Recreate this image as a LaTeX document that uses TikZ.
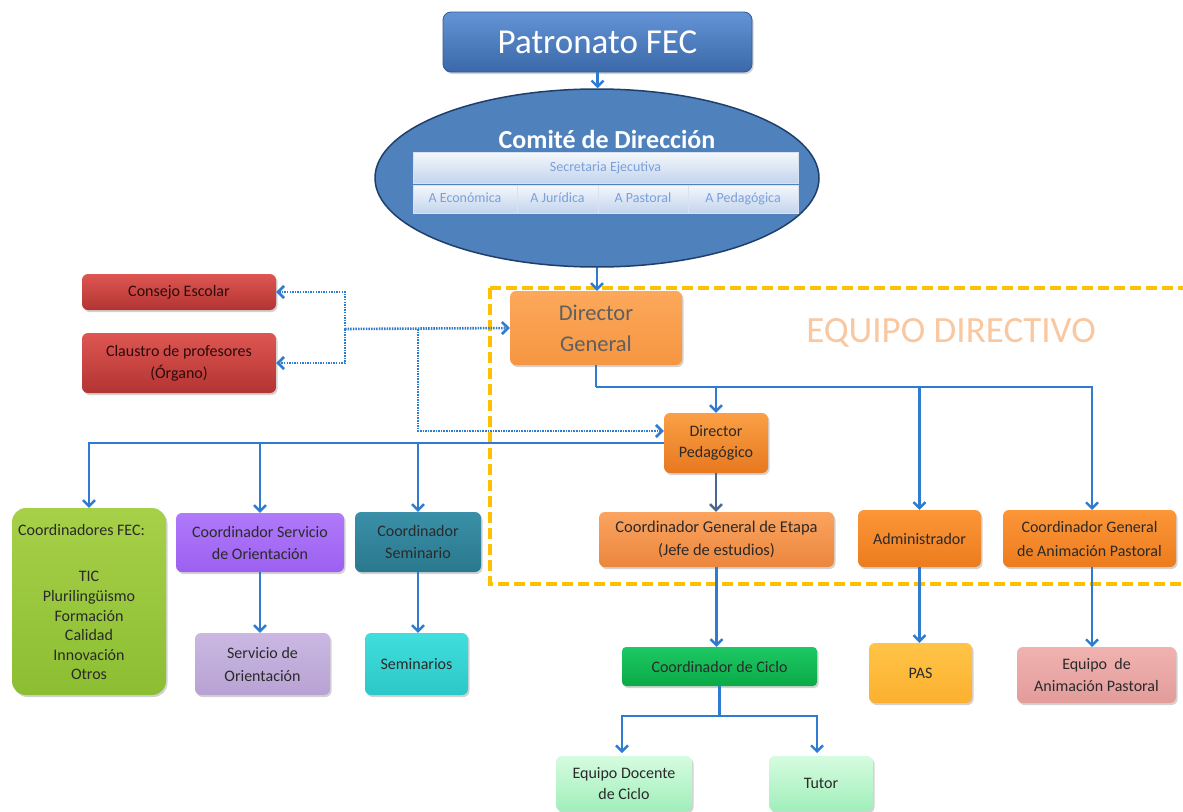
\documentclass[tikz,border=0pt]{standalone}
\usepackage{fontspec}
\setmainfont{Carlito}
\usetikzlibrary{arrows.meta,shadows,calc,shapes.geometric}
\definecolor{connblue}{HTML}{2E7BCF}
\definecolor{slate}{HTML}{4A6691}
\definecolor{txt}{HTML}{2A2A2A}
\definecolor{gold}{HTML}{FFC000}
\definecolor{equipo}{HTML}{F9C7A0}
\definecolor{secblue}{HTML}{7AA0D8}
\begin{document}
\begin{tikzpicture}[x=1pt,y=-1pt,>={Straight Barb[length=6pt,width=12pt]},
  box/.style={rounded corners=6pt, draw=none, align=center, inner sep=2pt,
    drop shadow={shadow xshift=1.5pt,shadow yshift=-2pt,opacity=0.35},
    font=\fontsize{16}{22}\selectfont, text=txt},
  cell/.style={draw=white!70!secblue, line width=0.6pt, top color=white!92!secblue, bottom color=white!55!secblue,
    align=center, inner sep=0pt, text height=10pt, text depth=3pt, font=\fontsize{14}{16}\selectfont, text=secblue},
  conn/.style={draw=connblue, line width=2.4pt},
  arr/.style={conn,->},
  dotc/.style={draw=connblue, line width=2.6pt, dash pattern=on 1.5pt off 1.1pt},
  darr/.style={dotc,->},
  bw/.style n args={2}{minimum width=#1pt, minimum height=#2pt}
]
\useasboundingbox (0,0) rectangle (1183,811);
\fill[white] (0,0) rectangle (1183,811);

% Equipo directivo frame
\draw[gold, line width=3.8pt, dash pattern=on 11pt off 5pt] (490,288) -- (1190,288);
\draw[gold, line width=3.8pt, dash pattern=on 11pt off 5pt] (490,288) -- (490,584) -- (1190,584);
\node[text=equipo, font=\fontsize{37}{42}\selectfont] (eqd) at (951,333) {EQUIPO DIRECTIVO};

% Top
\node[box, bw={309}{60}, rounded corners=8pt, top color={rgb,255:red,100;green,148;blue,214}, bottom color={rgb,255:red,58;green,104;blue,168},
  draw={rgb,255:red,50;green,90;blue,150}, line width=0.8pt, text=white, font=\fontsize{35}{40}\selectfont] (pat) at (597.5,42) {Patronato FEC};
\node[ellipse, draw={rgb,255:red,31;green,63;blue,107}, line width=1.5pt, fill={rgb,255:red,79;green,129;blue,189},
  minimum width=444pt, minimum height=178pt, inner sep=0pt] (com) at (597,178) {};
\node[text=white, font=\bfseries\fontsize{26}{30}\selectfont] (comt) at (607,139) {Comité de Dirección};
\node[cell, bw={385}{31}] (sec) at (605.5,167.5) {Secretaria Ejecutiva};
\node[cell, bw={104}{28}] (ae) at (465,199) {A Económica};
\node[cell, bw={81}{28}] (aj) at (557.5,199) {A Jurídica};
\node[cell, bw={90}{28}] (ap) at (643,199) {A Pastoral};
\node[cell, bw={110}{28}] (aped) at (743,199) {A Pedagógica};

% Red boxes
\node[box, bw={194}{36}, top color={rgb,255:red,222;green,86;blue,82}, bottom color={rgb,255:red,178;green,52;blue,50}, text={rgb,255:red,45;green,10;blue,10}] (consejo) at (179,292) {Consejo Escolar};
\node[box, bw={194}{60}, top color={rgb,255:red,222;green,86;blue,82}, bottom color={rgb,255:red,178;green,52;blue,50}, text={rgb,255:red,45;green,10;blue,10}] (claustro) at (179,363) {Claustro de profesores\\(Órgano)};

% Directors
\node[box, bw={172}{74}, top color={rgb,255:red,252;green,168;blue,90}, bottom color={rgb,255:red,246;green,150;blue,66}, text={rgb,255:red,95;green,95;blue,95}, font=\fontsize{22.5}{31}\selectfont] (dg) at (596,328) {Director\\General};
\node[box, bw={104}{60}, top color={rgb,255:red,250;green,160;blue,70}, bottom color={rgb,255:red,232;green,120;blue,30}, font=\fontsize{16}{21}\selectfont] (dp) at (716,443) {Director\\Pedagógico};

% Left branch
\node[box, bw={154}{187}, rounded corners=14pt, top color={rgb,255:red,166;green,208;blue,72}, bottom color={rgb,255:red,140;green,190;blue,50}] (fec) at (89,601.5) {};
\node[anchor=west, text=txt, inner sep=0pt, font=\fontsize{16}{19}\selectfont] (fect) at (18,530) {Coordinadores FEC:};
\node[align=center, text=txt, font=\fontsize{16}{19.6}\selectfont, anchor=north] (fecl) at (89,568) {TIC\\Plurilingüismo\\Formación\\Calidad\\Innovación\\Otros};
\node[box, bw={168}{59}, top color={rgb,255:red,176;green,122;blue,250}, bottom color={rgb,255:red,156;green,96;blue,240}] (cso) at (260,542.5) {Coordinador Servicio\\de Orientación};
\node[box, bw={126}{60}, top color={rgb,255:red,58;green,144;blue,168}, bottom color={rgb,255:red,42;green,120;blue,142}] (cs) at (418,542) {Coordinador\\Seminario};
\node[box, bw={135}{62}, top color={rgb,255:red,202;green,184;blue,226}, bottom color={rgb,255:red,184;green,162;blue,212}, font=\fontsize{16}{23}\selectfont] (so) at (262.5,664) {Servicio de\\Orientación};
\node[box, bw={103}{62}, top color={rgb,255:red,64;green,222;blue,220}, bottom color={rgb,255:red,44;green,200;blue,200}] (sem) at (416.5,664) {Seminarios};

% Right branch
\node[box, bw={235}{55}, top color={rgb,255:red,250;green,164;blue,96}, bottom color={rgb,255:red,236;green,134;blue,60}, font=\fontsize{16.5}{23}\selectfont] (cge) at (716.5,539.5) {Coordinador General de Etapa\\(Jefe de estudios)};
\node[box, bw={123}{57}, top color={rgb,255:red,252;green,150;blue,56}, bottom color={rgb,255:red,236;green,124;blue,30}] (adm) at (919.5,538.5) {Administrador};
\node[box, bw={173}{57}, top color={rgb,255:red,252;green,150;blue,56}, bottom color={rgb,255:red,236;green,124;blue,30}, font=\fontsize{16}{24}\selectfont] (cgap) at (1089.5,538.5) {Coordinador General\\de Animación Pastoral};
\node[box, bw={195}{39}, rounded corners=4pt, top color={rgb,255:red,30;green,200;blue,100}, bottom color={rgb,255:red,10;green,170;blue,70}] (cc) at (719.5,666.5) {Coordinador de Ciclo};
\node[box, bw={103}{60}, top color={rgb,255:red,255;green,196;blue,70}, bottom color={rgb,255:red,252;green,176;blue,48}] (pas) at (920.5,673) {PAS};
\node[box, bw={159}{56}, top color={rgb,255:red,240;green,178;blue,176}, bottom color={rgb,255:red,226;green,156;blue,154}] (eap) at (1096.5,675) {Equipo\ \ de\\Animación Pastoral};
\node[box, bw={136}{55}, top color={rgb,255:red,214;green,252;blue,224}, bottom color={rgb,255:red,160;green,238;blue,186}, font=\fontsize{16}{21}\selectfont] (edc) at (624,783.5) {Equipo Docente\\de Ciclo};
\node[box, bw={104}{55}, top color={rgb,255:red,214;green,252;blue,224}, bottom color={rgb,255:red,160;green,238;blue,186}] (tutor) at (821,783.5) {Tutor};

% Connectors
\draw[arr] (pat.south) -- (pat.south |- com.north);
\draw[arr] (com.south) -- (com.south |- dg.north);
\coordinate (bar1) at (597,387);
\draw[conn] (dg.south) -- (dg.south |- bar1);
\draw[arr] (dg.south |- bar1) -| (1092,510);
\draw[arr] (dp.north |- bar1) -- (dp.north);
\draw[arr] (adm.north |- bar1) -- (adm.north);

\draw[arr] (dp.west) -| (fec.north);
\draw[arr] (cso.north |- dp.west) -- (cso.north);
\draw[arr] (cs.north |- dp.west) -- (cs.north);
\draw[arr] (cso.south) -- (cso.south |- so.north);
\draw[arr] (cs.south) -- (cs.south |- sem.north);

\draw[draw=slate, line width=2.4pt, ->] (dp.south) -- (dp.south |- cge.north);
\draw[arr] (cge.south) -- (cge.south |- cc.north);
\draw[arr] (adm.south) -- (adm.south |- pas.north);
\draw[arr] (1092,567) -- (1092,647);
\coordinate (bar2) at (719.5,716);
\draw[conn] (cc.south) -- (bar2);
\draw[arr] (bar2) -| (622,753);
\draw[arr] (bar2) -| (817,753);

% Dotted
\coordinate (j1) at (345,329);
\coordinate (j2) at (418,329);
\draw[darr] (j1) -- (dg.west);
\draw[darr] (j1) |- (consejo.east);
\draw[darr] (j1) |- (claustro.east);
\draw[darr] (j2) |- ([yshift=12pt]dp.west);
\end{tikzpicture}
\end{document}
